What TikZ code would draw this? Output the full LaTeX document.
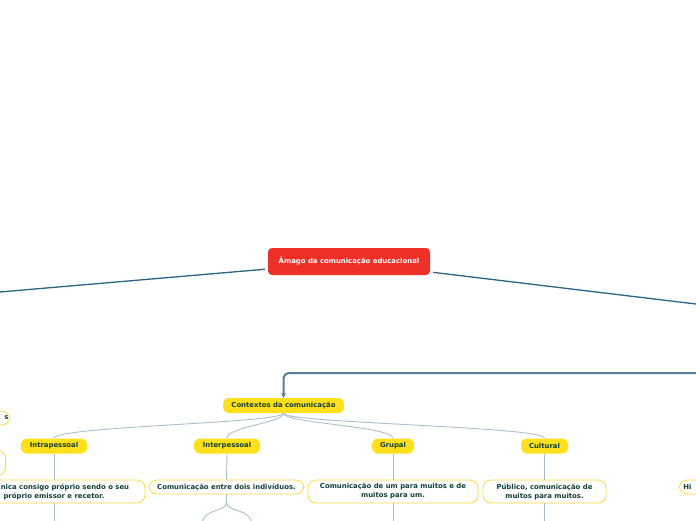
\documentclass[tikz,border=0pt]{standalone}
\usepackage{fontspec}
\usepackage{tikz}
\usetikzlibrary{arrows.meta,positioning}
\newfontfamily\mapfont{DejaVu Sans}
\definecolor{rootred}{HTML}{EE3128}
\definecolor{mapyellow}{HTML}{FFE01B}
\definecolor{edgeyellow}{HTML}{FFDA3A}
\definecolor{maptext}{HTML}{123F3A}
\definecolor{mainline}{HTML}{2A6485}
\definecolor{arrowline}{HTML}{557F96}
\definecolor{subline}{HTML}{A9BFCC}

\tikzset{
  rootbox/.style={fill=rootred,text=white,rounded corners=4pt,inner sep=0pt,
    minimum width=162pt,minimum height=27pt},
  topic/.style={fill=mapyellow,text=maptext,rounded corners=6pt,inner sep=0pt,
    minimum height=15pt},
  desc/.style={fill=white,draw=edgeyellow,line width=0.8pt,text=maptext,
    rounded corners=8pt,inner sep=0pt,align=center},
  mainlink/.style={draw=mainline,line width=1.3pt},
  sublink/.style={draw=subline,line width=0.9pt},
}

\begin{document}
\begin{tikzpicture}[x=1pt,y=-1pt,font=\mapfont\bfseries\fontsize{6.9}{9}\selectfont,>={Stealth[length=5pt,width=5pt]}]
\useasboundingbox (0,0) rectangle (696,520);
\clip (0,0) rectangle (696,520);
% root and its two branches
\node[rootbox] (root) at (349,261.5) {Âmago da comunicação educacional};
\coordinate (offL) at (-20,293.7);
\coordinate (offR) at (720,306.9);
\coordinate (offT) at (720,373);
\draw[mainlink,shorten <=3pt] (root.west|-0,269) -- (offL);
\draw[mainlink,shorten <=3pt] (root.east|-0,272) -- (offR);
% contexts
\node[topic,minimum width=121pt] (ctx) at (283.5,405.5) {Contextos da comunicação};
\draw[->,draw=arrowline,line width=2pt,rounded corners=6pt] (offT) -| (ctx.north);
\node[topic,minimum width=66pt] (intra) at (54,446) {Intrapessoal};
\node[topic,minimum width=66pt] (inter) at (227,446) {Interpessoal};
\node[topic,minimum width=42pt] (grupal) at (393,446) {Grupal};
\node[topic,minimum width=47pt] (cult) at (544.5,446) {Cultural};
\foreach \c in {intra,inter,grupal,cult}
  \draw[sublink] (ctx.south) .. controls +(0,10) and +(0,-12) .. (\c.north);
% descriptions
\node[desc,minimum width=182pt,minimum height=23pt] (intrad) at (54,491.5)
  {Comunica consigo próprio sendo o seu\\próprio emissor e recetor.};
\node[desc,minimum width=155pt,minimum height=14pt] (interd) at (226.5,487)
  {Comunicação entre dois indivíduos.};
\node[desc,minimum width=170pt,minimum height=23pt] (grupald) at (393,491.5)
  {Comunicação de um para muitos e de\\muitos para um.};
\node[desc,minimum width=123pt,minimum height=23pt] (cultd) at (544.5,491.5)
  {Público, comunicação de\\muitos para muitos.};
\foreach \c in {intra,grupal,cult} {
  \draw[sublink] (\c.south) -- (\c d.north);
  \draw[sublink] (\c d.south) -- ++(0,30);
}
\draw[sublink] (inter.south) -- (interd.north);
\coordinate (interA) at (202,525);
\coordinate (interB) at (252,525);
\draw[sublink] (interd.south) -- ++(0,8) .. controls +(0,10) and (202,508) .. (interA);
\draw[sublink] (interd.south) -- ++(0,8) .. controls +(0,10) and (252,508) .. (interB);
% nodes cut by the frame
\node[desc,anchor=east,text width=70pt,align=right,minimum height=14pt] (leftA) at (10,418) {s\hspace*{1pt}};
\node[desc,anchor=east,minimum width=70pt,minimum height=25pt] (leftB) at (6,463) {};
\node[desc,anchor=west,text width=60pt,align=left,minimum height=14pt] (rightA) at (679,487) {\hspace*{4pt}Hi};
\end{tikzpicture}
\end{document}
